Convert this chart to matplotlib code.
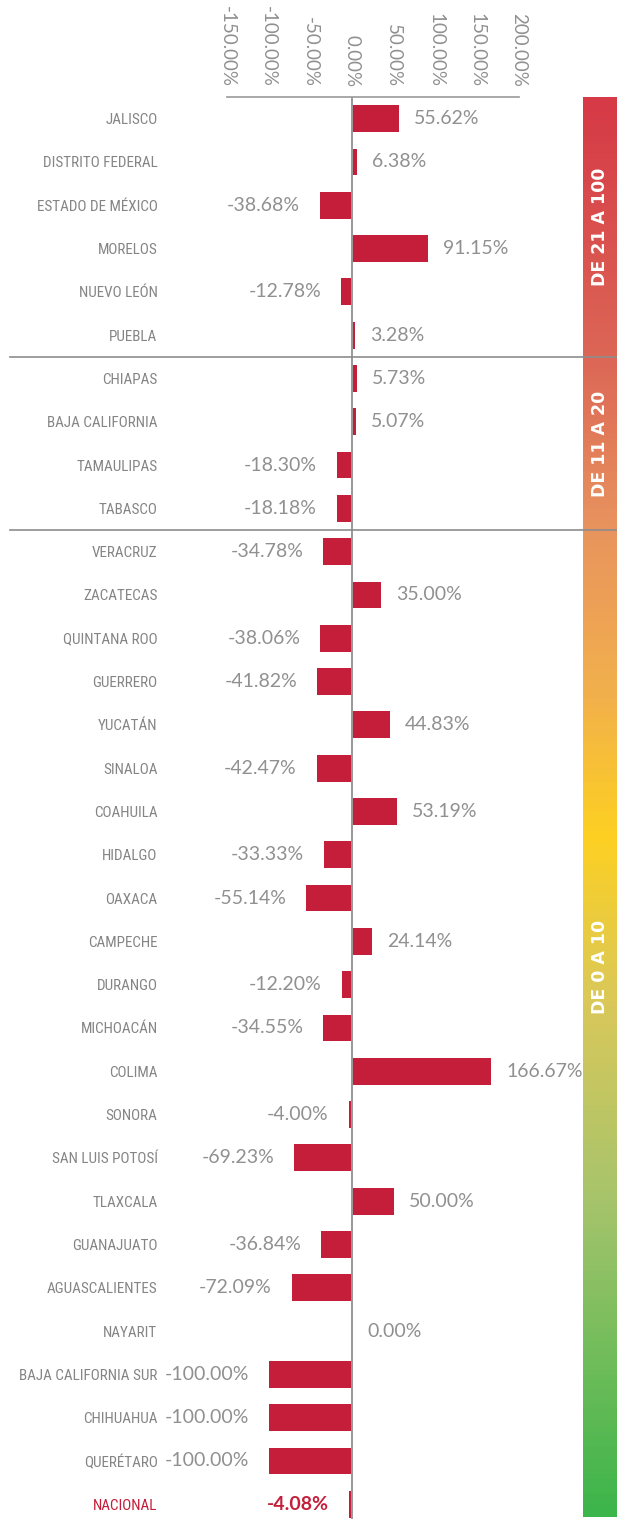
import numpy as np
import matplotlib
matplotlib.use("Agg")
import matplotlib.pyplot as plt
from matplotlib.colors import LinearSegmentedColormap
from matplotlib.lines import Line2D
from matplotlib import font_manager
import matplotlib.transforms as mtransforms

estados = ["JALISCO", "DISTRITO FEDERAL", "ESTADO DE MÉXICO", "MORELOS", "NUEVO LEÓN",
           "PUEBLA", "CHIAPAS", "BAJA CALIFORNIA", "TAMAULIPAS", "TABASCO",
           "VERACRUZ", "ZACATECAS", "QUINTANA ROO", "GUERRERO", "YUCATÁN",
           "SINALOA", "COAHUILA", "HIDALGO", "OAXACA", "CAMPECHE", "DURANGO",
           "MICHOACÁN", "COLIMA", "SONORA", "SAN LUIS POTOSÍ", "TLAXCALA",
           "GUANAJUATO", "AGUASCALIENTES", "NAYARIT", "BAJA CALIFORNIA SUR",
           "CHIHUAHUA", "QUERÉTARO", "NACIONAL"]
variacion = [55.62, 6.38, -38.68, 91.15, -12.78, 3.28, 5.73, 5.07, -18.30, -18.18,
             -34.78, 35.00, -38.06, -41.82, 44.83, -42.47, 53.19, -33.33, -55.14,
             24.14, -12.20, -34.55, 166.67, -4.00, -69.23, 50.00, -36.84, -72.09,
             0.00, -100.00, -100.00, -100.00, -4.08]
ticks = [-150, -100, -50, 0, 50, 100, 150, 200]
grupos = ["DE 21 A 100", "DE 11 A 20", "DE 0 A 10"]
cortes = [5.5, 9.5]

rojo = "#c41e3a"
gris = "#8c8c8c"

# fuente angosta para los nombres de los estados
narrow = font_manager.FontProperties(family="DejaVu Sans", stretch="condensed")
for fam in ["Liberation Sans Narrow", "Roboto Condensed", "Open Sans Condensed"]:
    try:
        font_manager.findfont(font_manager.FontProperties(family=fam), fallback_to_default=False)
        narrow = font_manager.FontProperties(family=fam)
        break
    except Exception:
        pass

fig = plt.figure(figsize=(6.17, 15.19), dpi=100)
W, H = 617, 1519
ax = fig.add_axes([227 / W, 0, 292 / W, 1 - 97 / H])

y = np.arange(len(estados))
ax.barh(y, variacion, height=0.62, color=rojo)
ax.set_xlim(-150, 200)
ax.set_ylim(32.34, -0.5)

ax.axvline(0, color="#999999", lw=1.4, zorder=3)

for i, v in enumerate(variacion):
    nac = estados[i] == "NACIONAL"
    col = rojo if nac else "#909090"
    fw = "bold" if nac else "normal"
    if v >= 0:
        ax.annotate(f"{v:.2f}%", (v, i), xytext=(15, 0), textcoords="offset pixels",
                    ha="left", va="center", fontsize=14, color=col,
                    family="Lato", fontweight=fw)
    else:
        ax.annotate(f"{v:.2f}%", (v, i), xytext=(-20, 0), textcoords="offset pixels",
                    ha="right", va="center", fontsize=14, color=col,
                    family="Lato", fontweight=fw, annotation_clip=False)

ax.set_yticks(y)
labs = ax.set_yticklabels(estados, fontproperties=narrow, color="#858585")
labs[-1].set_color(rojo)
ax.tick_params(axis="y", length=0, pad=50)

# ajustar tamaño para que la etiqueta más larga quepa (~139 px)
r = fig.canvas.get_renderer()
size = 14.0
for t in labs:
    t.set_fontsize(size)
wmax = max(t.get_window_extent(r).width for t in labs)
size = size * 139 / wmax
for t in labs:
    t.set_fontsize(size)

ax.xaxis.tick_top()
ax.set_xticks(ticks)
ax.set_xticklabels([f"{t:.2f}%" for t in ticks], rotation=270, family="Lato",
                   fontsize=13.5, color="#909090")
ax.tick_params(axis="x", length=0, pad=7)

for s in ["left", "right", "bottom"]:
    ax.spines[s].set_visible(False)
ax.spines["top"].set_color("#999999")
ax.spines["top"].set_linewidth(1.2)

trans = mtransforms.blended_transform_factory(fig.transFigure, ax.transData)
for c in cortes:
    fig.add_artist(Line2D([10 / W, 1], [c, c], transform=trans, color=gris, lw=1.2, zorder=5))

# barra de color
cax = fig.add_axes([583 / W, 2 / H, 34 / W, 1 - 99 / H])
cmap = LinearSegmentedColormap.from_list("semaforo", [
    (0.0, "#d63a46"), (0.18, "#dc6656"), (0.30, "#e8935e"), (0.42, "#f2b04c"),
    (0.52, "#fdd022"), (0.64, "#d9c85a"), (0.78, "#a6c46c"), (1.0, "#3cb54a")])
cax.imshow(np.linspace(0, 1, 300).reshape(-1, 1), aspect="auto", cmap=cmap,
           extent=(0, 1, 1, 0))
cax.set_axis_off()

ctrans = mtransforms.blended_transform_factory(cax.transAxes, ax.transData)
for g, yy in zip(grupos, [2.5, 7.5, 19.6]):
    fig.text(0.5, yy, g, transform=ctrans, rotation=90, ha="center", va="center",
             color="white", fontsize=12.5, fontweight="bold", family="DejaVu Sans")

fig.savefig("out.png", dpi=100)
